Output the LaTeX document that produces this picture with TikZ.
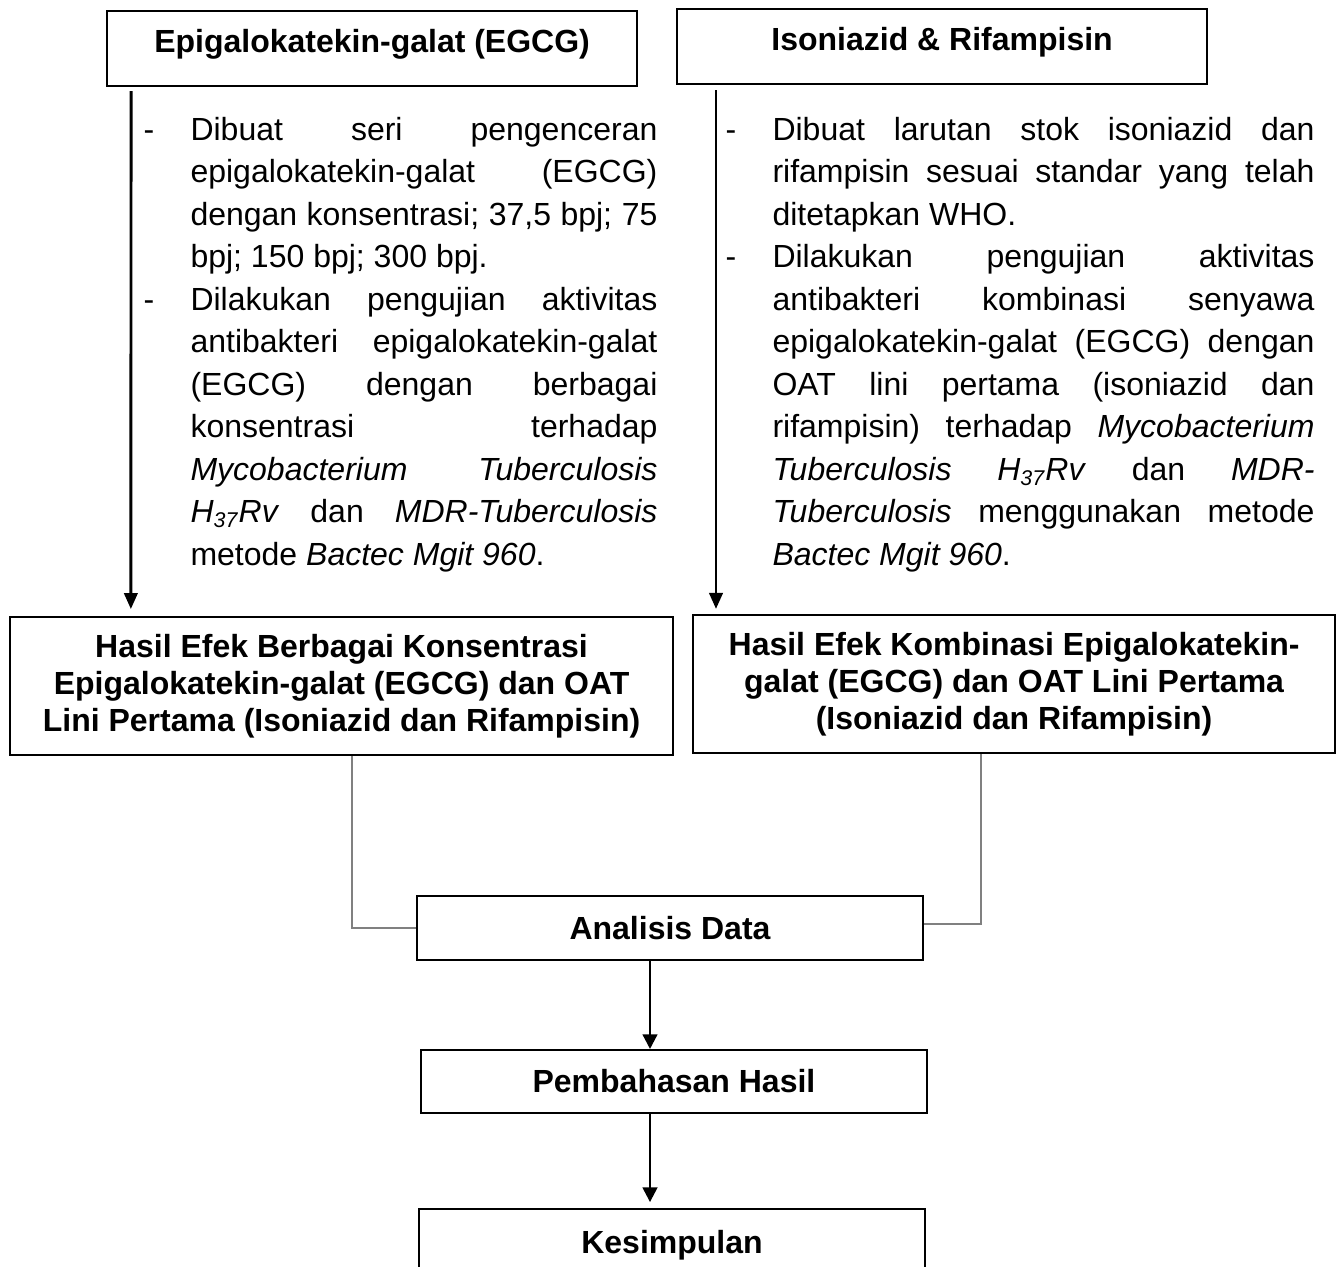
\documentclass[tikz,border=0pt]{standalone}
\usepackage{fontspec}
\setmainfont{Liberation Sans}
\usetikzlibrary{arrows.meta}

\tikzset{
  kotak/.style={draw, line width=0.8pt, rectangle, inner sep=0pt, align=center,
    font=\bfseries\fontsize{12}{13.8}\selectfont},
  satu/.style={text height=8.6pt, text depth=0pt},
  isi/.style={inner sep=0pt, anchor=base west, align=justify,
    font=\fontsize{12}{15.95}\selectfont,
    execute at begin node={\tolerance=10000 \hyphenpenalty=10000 \exhyphenpenalty=10000 }},
  panah/.style={-{Triangle[length=6pt,width=5pt]}, line width=1.1pt},
  panahkecil/.style={-{Triangle[length=5.5pt,width=5.5pt]}, line width=0.9pt},
  garis/.style={draw=gray, line width=0.5pt}
}
\newcommand{\strip}{\leavevmode\llap{\makebox[17.6pt][l]{-}}}

\begin{document}
\begin{tikzpicture}[x=0.375pt,y=-0.375pt]
\useasboundingbox (0,0) rectangle (1342,1267);
\fill[white] (0,0) rectangle (1342,1267);

\node[kotak, anchor=north west, minimum width=198.75pt, text height=15.56pt, text depth=12.56pt] (egcg) at (106,10) {Epigalokatekin-galat (EGCG)};
\node[kotak, anchor=north west, minimum width=198.75pt, text height=15.56pt, text depth=12.56pt] (isorif) at (676,8) {Isoniazid \& Rifampisin};

\node[isi, text width=175.1pt] (teksa) at (190,140) {\strip Dibuat seri pengenceran\linebreak epigalokatekin-galat (EGCG)\linebreak dengan konsentrasi; 37,5 bpj; 75\linebreak bpj; 150 bpj; 300 bpj.\par
\strip Dilakukan pengujian aktivitas\linebreak antibakteri epigalokatekin-galat\linebreak (EGCG) dengan berbagai\linebreak konsentrasi terhadap\linebreak \textit{Mycobacterium Tuberculosis}\linebreak \textit{H\textsubscript{37}Rv} dan \textit{MDR-Tuberculosis}\linebreak metode \textit{Bactec Mgit 960}.};
\node[isi, text width=203.25pt] (teksb) at (772,140) {\strip Dibuat larutan stok isoniazid dan\linebreak rifampisin sesuai standar yang telah\linebreak ditetapkan WHO.\par
\strip Dilakukan pengujian aktivitas\linebreak antibakteri kombinasi senyawa\linebreak epigalokatekin-galat (EGCG) dengan\linebreak OAT lini pertama (isoniazid dan\linebreak rifampisin) terhadap \textit{Mycobacterium}\linebreak \textit{Tuberculosis H\textsubscript{37}Rv} dan \textit{MDR-}\linebreak \textit{Tuberculosis} menggunakan metode\linebreak \textit{Bactec Mgit 960}.};

\node[kotak, anchor=north west, minimum width=248.6pt, minimum height=51.75pt] (hasila) at (9,616) {Hasil Efek Berbagai Konsentrasi\\Epigalokatekin-galat (EGCG) dan OAT\\Lini Pertama (Isoniazid dan Rifampisin)};
\node[kotak, anchor=north west, minimum width=240.75pt, minimum height=51.75pt] (hasilb) at (692,614) {Hasil Efek Kombinasi Epigalokatekin-\\galat (EGCG) dan OAT Lini Pertama\\(Isoniazid dan Rifampisin)};

\node[kotak, satu, minimum width=189.75pt, minimum height=24pt] (analisis) at (670,928) {Analisis Data};
\node[kotak, satu, minimum width=189.75pt, minimum height=23.6pt] (pembahasan) at (674,1081.5) {Pembahasan Hasil};
\node[kotak, satu, minimum width=189.75pt, minimum height=24.75pt] (kesimpulan) at (672,1242) {Kesimpulan};

\draw[panah] ([xshift=9.4pt,yshift=-1.5pt]egcg.south west) -- ([xshift=45.7pt,yshift=2.6pt]hasila.north west);
\draw[panah] ([xshift=15pt,yshift=-1.9pt]isorif.south west) -- ([xshift=9pt,yshift=1.9pt]hasilb.north west);
\draw[garis] ([xshift=3.9pt]hasila.south) |- (analisis.west);
\draw[garis] ([xshift=-12.4pt]hasilb.south) |- ([yshift=1.5pt]analisis.east);
\draw[panahkecil] ([xshift=-7.5pt]analisis.south) -- ([xshift=-7.5pt]analisis.south |- pembahasan.north);
\draw[panahkecil] ([xshift=-9pt]pembahasan.south) -- ([xshift=-9pt,yshift=2.2pt]pembahasan.south |- kesimpulan.north);
\end{tikzpicture}
\end{document}
